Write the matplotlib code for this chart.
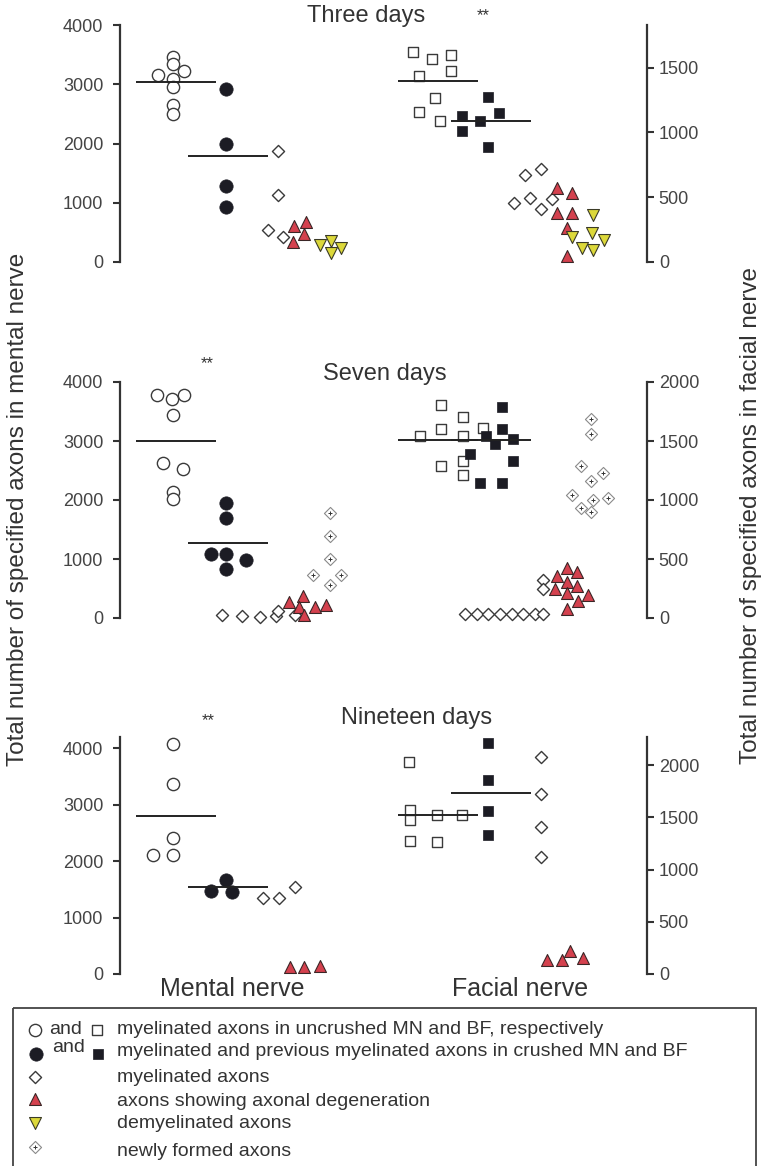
import matplotlib.pyplot as plt
from matplotlib.patches import Rectangle

plt.rcParams["font.family"] = ["Liberation Sans", "DejaVu Sans"]

# x: horizontal position of each point inside the panel (0 = left spine, 527 = right spine)
# MN = mental nerve (left axis), BF = facial nerve (right axis)

# ---- Three days ----
d3_mn_open_x = [53, 53, 64, 38, 53, 53, 53, 53]
d3_mn_open_y = [3460, 3342, 3224, 3156, 3089, 2954, 2650, 2498]
d3_mn_fill_x = [106, 106, 106, 106]
d3_mn_fill_y = [2920, 1992, 1283, 928]
d3_mn_myel_x = [158, 158, 148, 163]
d3_mn_myel_y = [1874, 1131, 540, 422]
d3_mn_degen_x = [174, 186, 184, 173]
d3_mn_degen_y = [608, 675, 473, 338]
d3_mn_demy_x = [200, 211, 221, 211]
d3_mn_demy_y = [287, 354, 236, 152]
d3_bf_open_x = [293, 312, 331, 299, 331, 315, 299, 320]
d3_bf_open_y = [1618, 1564, 1602, 1440, 1471, 1270, 1162, 1092]
d3_bf_fill_x = [342, 342, 360, 368, 379, 368]
d3_bf_fill_y = [1130, 1014, 1092, 1277, 1154, 891]
d3_bf_myel_x = [405, 421, 394, 410, 432, 421]
d3_bf_myel_y = [675, 721, 458, 497, 489, 412]
d3_bf_degen_x = [437, 452, 437, 452, 447, 447]
d3_bf_degen_y = [574, 536, 381, 381, 265, 49]
d3_bf_demy_x = [473, 472, 484, 452, 462, 473]
d3_bf_demy_y = [366, 226, 172, 195, 110, 95]
d3_means = [3043, 1789, 1401, 1092]

# ---- Seven days ----
d7_mn_open_x = [37, 52, 64, 53, 43, 63, 53, 53]
d7_mn_open_y = [3786, 3706, 3786, 3436, 2630, 2518, 2140, 2011]
d7_mn_fill_x = [106, 106, 91, 106, 126, 106]
d7_mn_fill_y = [1943, 1690, 1087, 1087, 985, 833]
d7_mn_myel_x = [102, 122, 140, 156, 158, 175]
d7_mn_myel_y = [56, 39, 22, 28, 112, 45]
d7_mn_degen_x = [169, 183, 179, 195, 206, 184]
d7_mn_degen_y = [264, 377, 179, 179, 225, 56]
d7_mn_new_x = [210, 210, 210, 193, 221, 210]
d7_mn_new_y = [1774, 1391, 1007, 732, 732, 563]
d7_bf_open_x = [321, 343, 300, 321, 343, 363, 321, 343, 343]
d7_bf_open_y = [1801, 1702, 1545, 1602, 1545, 1611, 1290, 1333, 1211]
d7_bf_fill_x = [382, 382, 366, 375, 393, 350, 393, 360, 382]
d7_bf_fill_y = [1787, 1602, 1540, 1475, 1517, 1390, 1327, 1143, 1143]
d7_bf_myel_x = [345, 357, 368, 380, 392, 403, 415, 423, 423, 423]
d7_bf_myel_y = [36, 36, 36, 36, 36, 36, 36, 36, 326, 247]
d7_bf_degen_x = [447, 457, 437, 447, 457, 435, 447, 468, 458, 447]
d7_bf_degen_y = [425, 388, 354, 303, 275, 247, 213, 198, 141, 77]
d7_bf_new_x = [471, 471, 461, 483, 471, 452, 473, 488, 461, 471]
d7_bf_new_y = [1688, 1560, 1290, 1228, 1163, 1044, 1001, 1021, 936, 899]
d7_means = [3001, 1278, 1511, 1511]

# ---- Nineteen days ----
d19_mn_open_x = [53, 53, 53, 33, 53]
d19_mn_open_y = [4070, 3362, 2416, 2109, 2109]
d19_mn_fill_x = [91, 106, 112]
d19_mn_fill_y = [1471, 1666, 1458]
d19_mn_myel_x = [143, 159, 175]
d19_mn_myel_y = [1352, 1352, 1536]
d19_mn_degen_x = [170, 184, 200]
d19_mn_degen_y = [129, 119, 142]
d19_bf_open_x = [289, 290, 290, 290, 317, 317, 342]
d19_bf_open_y = [2026, 1568, 1472, 1273, 1263, 1526, 1526]
d19_bf_fill_x = [368, 368, 368, 368]
d19_bf_fill_y = [2208, 1856, 1558, 1328]
d19_bf_myel_x = [421, 421, 421, 421]
d19_bf_myel_y = [2080, 1728, 1408, 1120]
d19_bf_degen_x = [427, 442, 450, 463]
d19_bf_degen_y = [134, 134, 217, 154]
d19_means = [2805, 1536, 1520, 1734]

# column centres of the four mean lines (MN open, MN crushed, BF open, BF crushed)
mean_centres = [56, 108, 318, 371]

left_ticks = [0, 1000, 2000, 3000, 4000]
right_ticks = [[0, 500, 1000, 1500], [0, 500, 1000, 1500, 2000],
               [0, 500, 1000, 1500, 2000]]
left_lims = [4000, 4000, 4200]
right_lims = [1830, 2000, 2270]

INK = "#333333"
STYLES = {
    "open": dict(marker="o", s=78, facecolor="white", edgecolor="#3a3a3a", linewidths=1.0),
    "fill": dict(marker="o", s=92, facecolor="#1c1c24", edgecolor="#1c1c24", linewidths=0.5),
    "sq_open": dict(marker="s", s=52, facecolor="white", edgecolor="#3a3a3a", linewidths=1.0),
    "sq_fill": dict(marker="s", s=62, facecolor="#1c1c24", edgecolor="#1c1c24", linewidths=0.5),
    "myel": dict(marker="D", s=38, facecolor="white", edgecolor="#3a3a3a", linewidths=1.0),
    "degen": dict(marker="^", s=74, facecolor="#d4414e", edgecolor="#3b2626", linewidths=0.8),
    "demy": dict(marker="v", s=74, facecolor="#dcd83a", edgecolor="#3b3b26", linewidths=0.8),
    "new": dict(marker="D", s=38, facecolor="white", edgecolor="#8a8a8a", linewidths=0.8),
}


def dots(ax, xs, ys, kind, z=2):
    ax.scatter(xs, ys, zorder=z, clip_on=False, **STYLES[kind])
    if kind == "new":
        ax.scatter(xs, ys, marker="+", s=6, color="#333333", linewidths=0.7,
                   zorder=z + 1, clip_on=False)


def style_axes(ax, ax2, i):
    for a in (ax, ax2):
        a.set_xlim(0, 527)
        for s in ("top", "bottom"):
            a.spines[s].set_visible(False)
        a.set_xticks([])
        a.tick_params(axis="y", direction="out", length=5, width=1.5,
                      color=INK, labelcolor="#444444", labelsize=13)
    ax.spines["right"].set_visible(False)
    ax2.spines["left"].set_visible(False)
    ax.spines["left"].set_linewidth(1.6)
    ax.spines["left"].set_color(INK)
    ax2.spines["right"].set_linewidth(1.6)
    ax2.spines["right"].set_color(INK)
    ax.set_ylim(0, left_lims[i])
    ax.set_yticks(left_ticks)
    ax2.set_ylim(0, right_lims[i])
    ax2.set_yticks(right_ticks[i])
    ax.tick_params(axis="y", pad=7)
    ax.patch.set_visible(False)


def mean_lines(ax, ax2, means):
    for k, (c, m) in enumerate(zip(mean_centres, means)):
        a = ax if k < 2 else ax2
        a.plot([c - 40, c + 40], [m, m], color="#222222", lw=1.4, zorder=4,
               solid_capstyle="butt")


fig = plt.figure(figsize=(7.67, 11.66), dpi=100)
W, H = 767, 1166
panel_px = [(25, 262), (382, 618), (737, 974)]
axes = []
for top, bot in panel_px:
    ax = fig.add_axes([120 / W, 1 - bot / H, 527 / W, (bot - top) / H])
    ax2 = ax.twinx()
    axes.append((ax, ax2))

# Three days
ax, ax2 = axes[0]
style_axes(ax, ax2, 0)
dots(ax, d3_mn_open_x, d3_mn_open_y, "open")
dots(ax, d3_mn_fill_x, d3_mn_fill_y, "fill")
dots(ax, d3_mn_myel_x, d3_mn_myel_y, "myel")
dots(ax, d3_mn_degen_x, d3_mn_degen_y, "degen")
dots(ax, d3_mn_demy_x, d3_mn_demy_y, "demy")
dots(ax2, d3_bf_open_x, d3_bf_open_y, "sq_open")
dots(ax2, d3_bf_fill_x, d3_bf_fill_y, "sq_fill")
dots(ax2, d3_bf_myel_x, d3_bf_myel_y, "myel")
dots(ax2, d3_bf_degen_x, d3_bf_degen_y, "degen")
dots(ax2, d3_bf_demy_x, d3_bf_demy_y, "demy")
mean_lines(ax, ax2, d3_means)

# Seven days
ax, ax2 = axes[1]
style_axes(ax, ax2, 1)
dots(ax, d7_mn_open_x, d7_mn_open_y, "open")
dots(ax, d7_mn_fill_x, d7_mn_fill_y, "fill")
dots(ax, d7_mn_myel_x, d7_mn_myel_y, "myel")
dots(ax, d7_mn_degen_x, d7_mn_degen_y, "degen")
dots(ax, d7_mn_new_x, d7_mn_new_y, "new")
dots(ax2, d7_bf_open_x, d7_bf_open_y, "sq_open")
dots(ax2, d7_bf_fill_x, d7_bf_fill_y, "sq_fill")
dots(ax2, d7_bf_myel_x, d7_bf_myel_y, "myel")
dots(ax2, d7_bf_degen_x, d7_bf_degen_y, "degen")
dots(ax2, d7_bf_new_x, d7_bf_new_y, "new")
mean_lines(ax, ax2, d7_means)

# Nineteen days
ax, ax2 = axes[2]
style_axes(ax, ax2, 2)
dots(ax, d19_mn_open_x, d19_mn_open_y, "open")
dots(ax, d19_mn_fill_x, d19_mn_fill_y, "fill")
dots(ax, d19_mn_myel_x, d19_mn_myel_y, "myel")
dots(ax, d19_mn_degen_x, d19_mn_degen_y, "degen")
dots(ax2, d19_bf_open_x, d19_bf_open_y, "sq_open")
dots(ax2, d19_bf_fill_x, d19_bf_fill_y, "sq_fill")
dots(ax2, d19_bf_myel_x, d19_bf_myel_y, "myel")
dots(ax2, d19_bf_degen_x, d19_bf_degen_y, "degen")
mean_lines(ax, ax2, d19_means)


def ftext(x, y, s, **kw):
    fig.text(x / W, 1 - y / H, s, color=INK, **kw)


ftext(366, 16, "Three days", fontsize=17, ha="center", va="center")
ftext(483, 16, "**", fontsize=12, ha="center", va="center")
ftext(385, 374, "Seven days", fontsize=17, ha="center", va="center")
ftext(207, 364, "**", fontsize=12, ha="center", va="center")
ftext(417, 718, "Nineteen days", fontsize=17, ha="center", va="center")
ftext(208, 721, "**", fontsize=12, ha="center", va="center")
ftext(232, 989, "Mental nerve", fontsize=18, ha="center", va="center")
ftext(520, 989, "Facial nerve", fontsize=18, ha="center", va="center")
ftext(18, 509, "Total number of specified axons in mental nerve", fontsize=17.5,
      rotation=90, ha="center", va="center")
ftext(751, 515, "Total number of specified axons in facial nerve", fontsize=17.5,
      rotation=90, ha="center", va="center")

# legend panel, drawn in figure pixel units
lax = fig.add_axes([0, 0, 1, 1])
lax.set_xlim(0, W)
lax.set_ylim(H, 0)
lax.axis("off")
lax.add_patch(Rectangle((13, 1008), 743, 200, fill=False, lw=1.3,
                        edgecolor="#444444", clip_on=True))

legend_rows = [
    (1030, "myelinated axons in uncrushed MN and BF, respectively"),
    (1052, "myelinated and previous myelinated axons in crushed MN and BF"),
    (1077, "myelinated axons"),
    (1101, "axons showing axonal degeneration"),
    (1123, "demyelinated axons"),
    (1152, "newly formed axons"),
]
for y, label in legend_rows:
    lax.text(117, y, label, fontsize=14, color=INK, va="center")

lax.scatter([35], [1030], **STYLES["open"])
lax.text(49, 1029, "and", fontsize=14, color=INK, va="center")
lax.scatter([97], [1030], **STYLES["sq_open"])
lax.scatter([36], [1054], **STYLES["fill"])
lax.text(52, 1048, "and", fontsize=14, color=INK, va="center")
lax.scatter([98], [1054], **STYLES["sq_fill"])
lax.scatter([35], [1077], **STYLES["myel"])
lax.scatter([35], [1099], **STYLES["degen"])
lax.scatter([35], [1123], **STYLES["demy"])
lax.scatter([35], [1147], **STYLES["new"])
lax.scatter([35], [1147], marker="+", s=6, color="#333333", linewidths=0.7)

fig.savefig("out.png", dpi=100)
